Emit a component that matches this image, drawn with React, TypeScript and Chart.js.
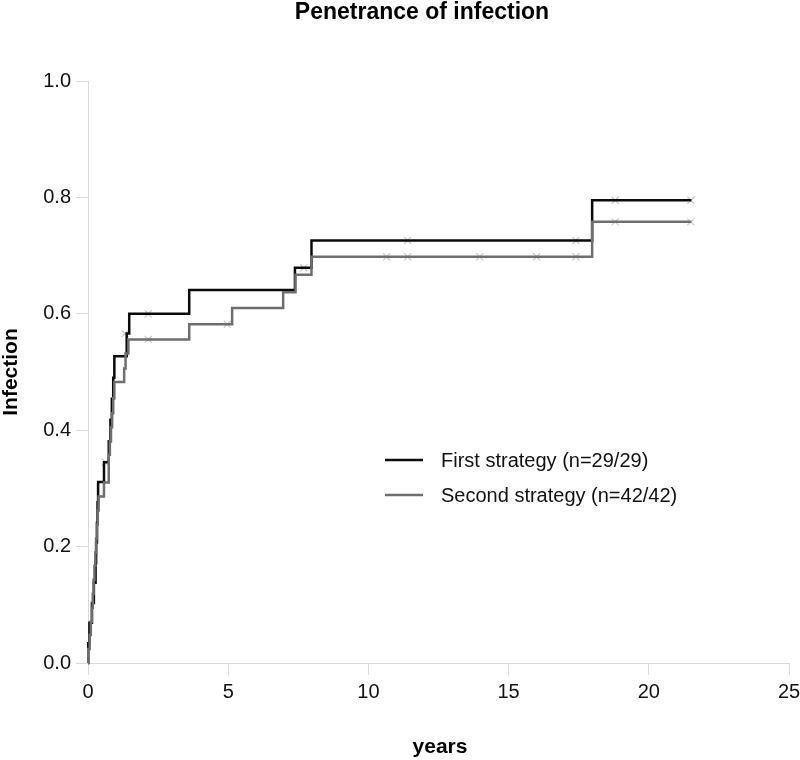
import React, { useEffect, useRef } from "react";
import { Chart, registerables } from "chart.js";

Chart.register(...registerables);

// ---- Data ----
const firstTimes = [0, 0.01, 0.05, 0.14, 0.21, 0.27, 0.29, 0.32, 0.34, 0.36, 0.57, 0.74, 0.8, 0.85, 0.9, 0.94, 1.38, 1.47, 3.61, 7.38, 7.97, 17.98, 21.52];
const firstValues = [0, 0.034, 0.069, 0.103, 0.138, 0.172, 0.207, 0.241, 0.276, 0.311, 0.345, 0.381, 0.418, 0.454, 0.49, 0.527, 0.566, 0.6, 0.641, 0.679, 0.726, 0.795, 0.795];
const firstCensorTimes = [0.62, 1.32, 2.15, 7.7, 11.4, 17.4, 18.8, 21.5];
const firstCensorValues = [0.345, 0.566, 0.6, 0.679, 0.726, 0.726, 0.795, 0.795];

const secondTimes = [0, 0.01, 0.06, 0.1, 0.14, 0.17, 0.2, 0.23, 0.26, 0.29, 0.32, 0.35, 0.38, 0.57, 0.74, 0.78, 0.82, 0.86, 0.9, 0.94, 1.29, 1.34, 1.44, 3.61, 5.14, 6.96, 7.4, 7.97, 17.98, 21.52];
const secondValues = [0, 0.024, 0.048, 0.071, 0.095, 0.119, 0.143, 0.167, 0.19, 0.214, 0.238, 0.262, 0.286, 0.31, 0.358, 0.381, 0.405, 0.429, 0.455, 0.483, 0.506, 0.532, 0.556, 0.582, 0.61, 0.637, 0.667, 0.698, 0.758, 0.758];
const secondCensorTimes = [2.15, 4.97, 10.65, 11.4, 13.97, 16.0, 17.4, 18.8, 21.5];
const secondCensorValues = [0.556, 0.582, 0.698, 0.698, 0.698, 0.698, 0.698, 0.758, 0.758];

const seriesLabels = ["First strategy (n=29/29)", "Second strategy (n=42/42)"];
const seriesColors = ["#0a0a0a", "#6e6e6e"];
const xTicks = [0, 5, 10, 15, 20, 25];
const yTicks = [0, 0.2, 0.4, 0.6, 0.8, 1.0];
const titleText = "Penetrance of infection";
const xTitle = "years";
const yTitle = "Infection";

const FONT = "'Liberation Sans', Arial, Helvetica, sans-serif";

const toPoints = (xs: number[], ys: number[]) => xs.map((x, i) => ({ x, y: ys[i] }));

const textPlugin = {
  id: "textPlugin",
  afterDraw(chart: any) {
    const ctx = chart.ctx;
    const ca = chart.chartArea;
    ctx.save();
    ctx.fillStyle = "#000";
    // Title
    ctx.font = `bold 23px ${FONT}`;
    ctx.textAlign = "center";
    ctx.textBaseline = "middle";
    ctx.fillText(titleText, 422, 13);
    // X title
    ctx.font = `bold 21px ${FONT}`;
    ctx.fillText(xTitle, 440, 747);
    // Y title
    ctx.save();
    ctx.translate(11, (ca.top + ca.bottom) / 2);
    ctx.rotate(-Math.PI / 2);
    ctx.fillText(yTitle, 0, 0);
    ctx.restore();
    // Legend
    const lx0 = 385, lx1 = 423, tx = 441;
    const ys = [460, 495];
    ctx.font = `20px ${FONT}`;
    ctx.textAlign = "left";
    seriesLabels.forEach((lab, i) => {
      ctx.strokeStyle = seriesColors[i];
      ctx.lineWidth = 2.5;
      ctx.beginPath();
      ctx.moveTo(lx0, ys[i]);
      ctx.lineTo(lx1, ys[i]);
      ctx.stroke();
      ctx.fillStyle = "#111";
      ctx.fillText(lab, tx, ys[i] + 1);
    });
    ctx.restore();
  },
};

export default function App() {
  const ref = useRef<HTMLCanvasElement | null>(null);
  useEffect(() => {
    document.body.style.margin = "0";
    const canvas = ref.current;
    if (!canvas) return;
    const chart = new Chart(canvas, {
      type: "scatter",
      data: {
        datasets: [
          {
            label: seriesLabels[1],
            data: toPoints(secondTimes, secondValues),
            showLine: true,
            stepped: "before",
            borderColor: seriesColors[1],
            borderWidth: 2.5,
            pointRadius: 0,
            order: 0,
            clip: false,
          } as any,
          {
            label: seriesLabels[0],
            data: toPoints(firstTimes, firstValues),
            showLine: true,
            stepped: "before",
            borderColor: seriesColors[0],
            borderWidth: 2.5,
            pointRadius: 0,
            order: 1,
            clip: false,
          } as any,
          {
            label: "first censored",
            data: toPoints(firstCensorTimes, firstCensorValues),
            pointStyle: "crossRot",
            pointRadius: 5,
            borderColor: "#c8c8c8",
            pointBorderWidth: 1.2,
            order: 2,
            clip: false,
          } as any,
          {
            label: "second censored",
            data: toPoints(secondCensorTimes, secondCensorValues),
            pointStyle: "crossRot",
            pointRadius: 5,
            borderColor: "#c8c8c8",
            pointBorderWidth: 1.2,
            order: 2,
            clip: false,
          } as any,
        ],
      },
      options: {
        responsive: false,
        animation: false,
        layout: { padding: { top: 81, right: 11, left: 0, bottom: 0 } },
        plugins: {
          legend: { display: false },
          title: { display: false },
          tooltip: { enabled: false },
        },
        scales: {
          x: {
            type: "linear",
            min: 0,
            max: 25,
            afterBuildTicks: (s: any) => {
              s.ticks = xTicks.map((v) => ({ value: v }));
            },
            afterFit: (s: any) => {
              s.height = 97;
              s.paddingLeft = 0;
              s.paddingRight = 0;
            },
            ticks: {
              color: "#111",
              font: { family: FONT, size: 20 },
              padding: 5,
              maxRotation: 0,
              callback: (v: any) => String(v),
            },
            grid: { drawOnChartArea: false, drawTicks: true, tickLength: 12, color: "#d9d9d9", lineWidth: 1 },
            border: { display: true, color: "#d9d9d9", width: 1 },
          },
          y: {
            type: "linear",
            min: 0,
            max: 1,
            afterBuildTicks: (s: any) => {
              s.ticks = yTicks.map((v) => ({ value: v }));
            },
            afterFit: (s: any) => {
              s.width = 88;
              s.paddingTop = 0;
              s.paddingBottom = 0;
            },
            ticks: {
              color: "#111",
              font: { family: FONT, size: 20 },
              padding: 5,
              callback: (v: any) => Number(v).toFixed(1),
            },
            grid: { drawOnChartArea: false, drawTicks: true, tickLength: 12, color: "#d9d9d9", lineWidth: 1 },
            border: { display: true, color: "#d9d9d9", width: 1 },
          },
        },
      },
      plugins: [textPlugin],
    });
    return () => chart.destroy();
  }, []);
  return (
    <div style={{ width: 800, height: 760, background: "#fff" }}>
      <canvas ref={ref} width={800} height={760} style={{ display: "block", width: 800, height: 760 }} />
    </div>
  );
}
